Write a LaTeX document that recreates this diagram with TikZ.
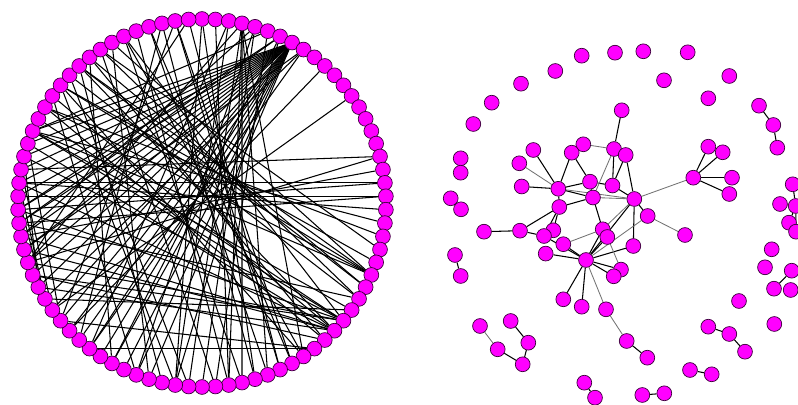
\documentclass[tikz,border=0pt]{standalone}
\usetikzlibrary{backgrounds}

\begin{document}
\begin{tikzpicture}[x=0.025cm,y=-0.025cm]
\definecolor{vertex}{RGB}{255,0,255}
\definecolor{rim}{RGB}{60,0,60}
\tikzset{
  vtx/.style={circle,fill=vertex,draw=rim,line width=0.5pt,minimum size=0.37cm,inner sep=0pt},
  lnk/.style={black,line width=0.75pt},
  lnkg/.style={black!55,line width=0.6pt}
}
\useasboundingbox (0,0) rectangle (798,405);

% Circular layout: 86 vertices, clockwise from the top.
\foreach \i in {0,...,85}
  \node[vtx] (c\i) at ({202+184*cos(90-\i*4.18605)},{203-184*sin(90-\i*4.18605)}) {};

% Force layout.
\foreach \n/\x/\y in {
  o1/581.7/55.7, o2/615/52.7, o3/643.3/51.3, o4/687.7/52.3, o5/555.3/71,
  o6/521/83.7, o7/491.7/102.7, o8/473.3/124, o9/664/80.3, o10/729.3/76,
  o11/708.3/98.3, o12/759/105.7, o13/773.3/125, o14/777.3/147.7,
  o15/460.7/158.3, o16/460.7/172.7, o17/450.7/198.3, o18/461/209.3,
  o19/455/255, o20/460.7/276,
  top/621.7/110.3, ka/533.3/150, kb/583.3/144.3, kc/571.7/152.7, kd/614/149,
  ke/625.7/155, kf/519.3/163.3, kg/521.7/186.5, kh/558.3/188.8, ki/590/181.7,
  kj/612.5/185.5, kk/593/197.5, kl/634.3/199, km/559.3/207, kn/647.7/216,
  ko/520/230.7, kq/484/231.7, kp/553.3/230.3, kr/544/236, ks/602.7/229.3,
  kt/607.3/237, ku/563.3/244.2, kv/633.3/246, kw/545.7/253.6, hub/586/260,
  kx/621/269.6, ky/613.7/276.3, z1/563.3/299.3, z2/581.7/306.7, z3/606/309.3,
  kn2/685/235, z4/626.7/341, z5/647.3/357.7,
  hb/693.3/177.7, h1/708.3/146.7, h2/722.7/152.3, h3/732/177.7, h4/729.3/194,
  p1/480/326, p2/497.7/349.3, p3/522.7/364.3, p4/528.3/342.7, p5/510.7/321,
  q1/584.3/382.7, q2/595/397.7, q3/642.3/395, q4/664.3/393.3,
  q5/690/370, q6/711.7/374.3, q7/708.3/326.7, q8/729.3/334, q9/745/351.7,
  s1/739/301, s2/774.3/324, s3/771.7/249.3, s4/765/267.3,
  e1/792.7/184.3, e2/780/204, e3/795.7/206, e4/789/222.7, e5/796/231.7,
  e6/791.7/270.7, e7/774/288.7, e8/790.7/290}
  \node[vtx] (\n) at (\x,\y) {};

\begin{pgfonlayer}{background}
% Edges of the circular layout.
\foreach \a/\b in {
  7/47, 7/48, 7/49, 7/50, 7/51, 7/52, 7/53, 7/54, 7/55, 7/56, 7/58, 7/59,
  7/60, 7/61, 7/62, 7/63, 7/64, 7/65, 7/66, 7/67, 7/68, 7/69, 7/70,
  6/45, 6/50, 8/52, 8/57, 6/63, 8/61,
  3/38, 3/40, 3/41, 3/44, 3/35, 3/60, 1/41, 2/45, 0/39, 0/45, 4/43, 5/42,
  20/64, 21/65, 21/63, 20/66, 19/62, 22/66, 18/67, 18/60, 13/56, 10/54,
  27/74, 27/72, 27/70, 27/76, 29/75, 29/78, 31/60, 31/64, 31/68, 31/70,
  31/80, 32/58, 32/62, 32/66, 32/69, 32/73, 32/76, 34/52, 34/55, 33/59,
  30/57, 66/57, 67/56, 68/58, 65/57, 69/55, 75/44, 76/46, 78/42, 80/40,
  82/38, 73/48, 74/45, 77/50, 79/47, 81/41, 83/39, 84/36, 85/37, 70/30,
  72/33, 74/35, 76/28, 78/25, 84/55, 83/53, 85/60, 23/70, 24/72, 26/74,
  28/77, 35/80, 36/82, 37/84, 5/70, 4/48, 2/52, 79/27, 71/31, 77/33,
  63/29, 61/32, 59/31, 64/6, 62/4}
  \draw[lnk] (c\a) -- (c\b);

% Edges of the force layout.
\foreach \a/\b in {
  top/kd, kc/kh, kc/ki, ka/kh, kg/kh, kh/ki, kh/kk, kh/km, kd/kj, ke/kj,
  ke/kl, ki/kj, ki/kk, kj/kl, kk/ks, kl/kn, kl/kv, kl/hub, km/kk, km/kp,
  km/kr, ko/km, kq/ko, ko/kr, kr/hub, ku/hub, kw/hub, hub/ks, hub/kt,
  hub/kv, hub/kx, hub/ky, hub/z1, hub/z2, hb/h1, hb/h2, hb/h3, hb/h4,
  p2/p3, p3/p4, p4/p5, q1/q2, q3/q4, q5/q6, q7/q8, q8/q9, o12/o13, o13/o14,
  e1/e3, e2/e3, e3/e4, e3/e5, e6/e7, o19/o20, z4/z5}
  \draw[lnk] (\a) -- (\b);
\foreach \a/\b in {
  kb/kd, kf/kh, kh/kl, kd/kk, kk/kl, kl/hb, kl/ks, ku/ks, hub/kn, kt/kx,
  kn/kn2, hub/z3, z3/z4, p1/p2}
  \draw[lnkg] (\a) -- (\b);
\end{pgfonlayer}
\end{tikzpicture}
\end{document}
